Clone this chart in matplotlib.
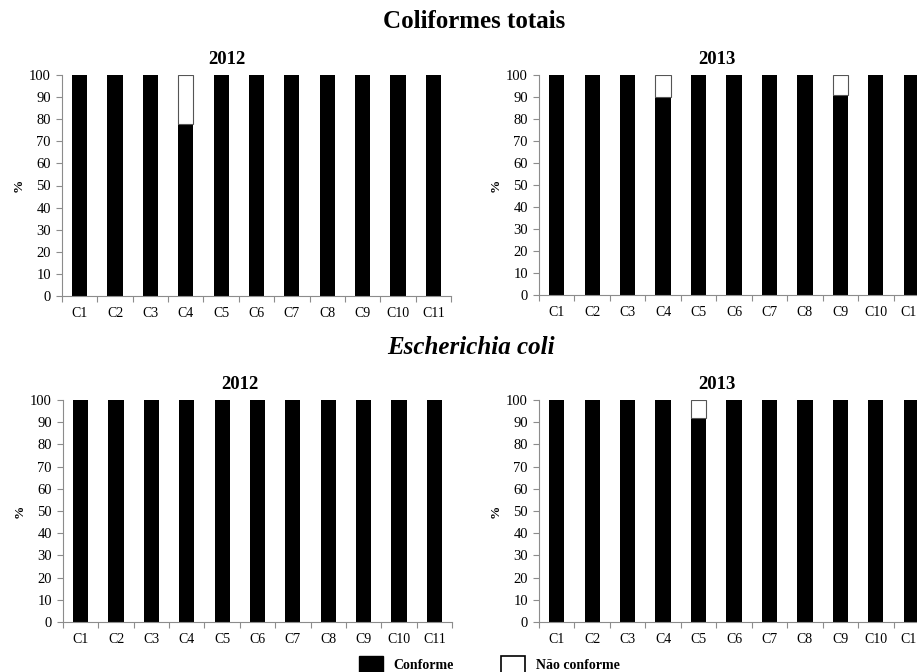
"""Conformidade microbiológica por ponto de coleta, 2012 e 2013."""

import matplotlib

matplotlib.use("Agg")

import matplotlib.pyplot as plt
import numpy as np

plt.rcParams["font.family"] = ["Liberation Serif", "DejaVu Serif"]

categories = ["C1", "C2", "C3", "C4", "C5", "C6", "C7", "C8", "C9", "C10", "C11"]

# Percentual de amostras conformes / não conformes
coli_2012_conforme = [100, 100, 100, 78, 100, 100, 100, 100, 100, 100, 100]
coli_2012_nao = [0, 0, 0, 22, 0, 0, 0, 0, 0, 0, 0]
coli_2013_conforme = [100, 100, 100, 90, 100, 100, 100, 100, 91, 100, 100]
coli_2013_nao = [0, 0, 0, 10, 0, 0, 0, 0, 9, 0, 0]
ecoli_2012_conforme = [100, 100, 100, 100, 100, 100, 100, 100, 100, 100, 100]
ecoli_2012_nao = [0, 0, 0, 0, 0, 0, 0, 0, 0, 0, 0]
ecoli_2013_conforme = [100, 100, 100, 100, 92, 100, 100, 100, 100, 100, 100]
ecoli_2013_nao = [0, 0, 0, 0, 8, 0, 0, 0, 0, 0, 0]

W, H = 917, 672
AXIS_GREY = "#8c8c8c"


def draw_panel(ax, conforme, nao, title, title_x):
    x = np.arange(len(categories))
    conforme = np.asarray(conforme, dtype=float)
    nao = np.asarray(nao, dtype=float)
    ax.bar(x, conforme, width=0.43, color="black", label="Conforme")
    mask = nao > 0
    ax.bar(x[mask], nao[mask], width=0.43, bottom=conforme[mask],
           color="white", edgecolor="#555555", linewidth=0.8)

    ax.set_xlim(-0.5, len(categories) - 0.5)
    ax.set_ylim(0, 100)
    ax.set_yticks(np.arange(0, 101, 10))
    ax.set_xticks(np.arange(len(categories) + 1) - 0.5)
    ax.set_xticklabels([])
    ax.set_xticks(x, categories, minor=True)
    ax.tick_params(axis="x", which="major", length=4, color=AXIS_GREY, width=0.8)
    ax.tick_params(axis="x", which="minor", length=0, labelsize=10, pad=8)
    ax.tick_params(axis="y", length=4, color=AXIS_GREY, width=0.8, labelsize=10.5, pad=4)
    for side in ("top", "right"):
        ax.spines[side].set_visible(False)
    for side in ("left", "bottom"):
        ax.spines[side].set_color(AXIS_GREY)
        ax.spines[side].set_linewidth(0.8)
    ax.set_ylabel("%", fontsize=9.5, fontweight="bold", labelpad=3)
    ax.set_title(title, fontsize=13.5, fontweight="bold", x=title_x, pad=8)


fig = plt.figure(figsize=(W / 100, H / 100), dpi=100)

width = 389 / W
ax_tl = fig.add_axes([62 / W, 1 - 296 / H, width, 221 / H])
ax_tr = fig.add_axes([539 / W, 1 - 295 / H, 390 / W, 220 / H])
ax_bl = fig.add_axes([63 / W, 1 - 622 / H, width, 222 / H])
ax_br = fig.add_axes([539 / W, 1 - 622 / H, 390 / W, 222 / H])

draw_panel(ax_tl, coli_2012_conforme, coli_2012_nao, "2012", 0.423)
draw_panel(ax_tr, coli_2013_conforme, coli_2013_nao, "2013", 0.456)
draw_panel(ax_bl, ecoli_2012_conforme, ecoli_2012_nao, "2012", 0.455)
draw_panel(ax_br, ecoli_2013_conforme, ecoli_2013_nao, "2013", 0.456)

fig.text(474 / W, 1 - 21 / H, "Coliformes totais", ha="center", va="center",
         fontsize=18, fontweight="bold")
fig.text(471 / W, 1 - 347 / H, "Escherichia coli", ha="center", va="center",
         fontsize=18, fontweight="bold", style="italic")

handles = [
    plt.Rectangle((0, 0), 1, 1, facecolor="black", edgecolor="black"),
    plt.Rectangle((0, 0), 1, 1, facecolor="white", edgecolor="black", linewidth=1.2),
]
fig.legend(handles, ["Conforme", "Não conforme"], ncol=2, frameon=False,
           loc="upper left", bbox_to_anchor=(359 / W, 1 - 656 / H),
           borderpad=0, borderaxespad=0, handlelength=1.7, handleheight=1.5,
           handletextpad=0.8, columnspacing=3.4,
           prop={"family": "Liberation Serif", "weight": "bold", "size": 10})

fig.savefig("out.png", dpi=100)
